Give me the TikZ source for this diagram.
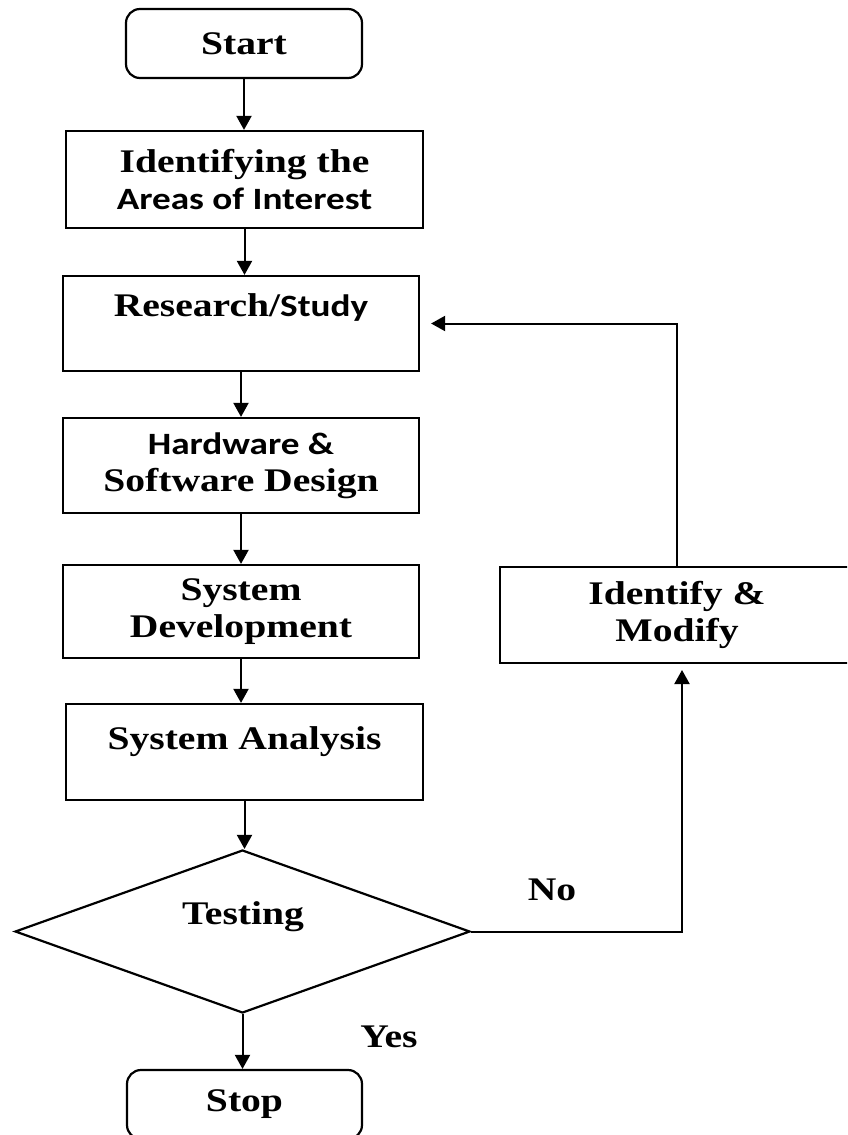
\documentclass[tikz,border=0pt]{standalone}
\usepackage{fontspec}
\setmainfont{Liberation Serif}[FakeStretch=1.2]
\newfontfamily\calfont{Carlito}[FakeStretch=1.2]
\usetikzlibrary{arrows.meta,shapes.geometric}
\tikzset{
  procbox/.style={draw, line width=2.2pt, inner sep=0pt, align=center,
    font=\fontsize{33}{37}\selectfont\bfseries},
  termbox/.style={procbox, rounded corners=14pt},
  decbox/.style={draw, diamond, line width=2.2pt, inner sep=0pt},
  txt/.style={inner sep=0pt, align=center, font=\fontsize{33}{37}\selectfont\bfseries},
  arr/.style={line width=2pt, -{Triangle[width=15pt,length=14pt]}}
}
\newcommand{\sanstxt}[1]{{\calfont\fontsize{31}{37}\selectfont #1}}
\begin{document}
\begin{tikzpicture}[x=1pt,y=-1pt]
\clip (0,0) rectangle (847,1135);
\fill[white] (0,0) rectangle (847,1135);

\node[termbox, minimum width=236pt, minimum height=69pt] (start) at (244,43.5) {Start};
\node[procbox, minimum width=357pt, minimum height=97pt] (ident) at (244.5,179.5) {Identifying the\\\sanstxt{Areas of Interest}};
\node[procbox, minimum width=356pt, minimum height=95pt] (research) at (241,323.5) {};
\node[txt] (researchtext) at (241,307) {Research/\sanstxt{Study}};
\node[procbox, minimum width=356pt, minimum height=95pt] (hw) at (241,465.5) {\sanstxt{Hardware \&}\\Software Design};
\node[procbox, minimum width=356pt, minimum height=93pt] (dev) at (241,611.5) {System\\Development};
\node[procbox, minimum width=357pt, minimum height=96pt] (ana) at (244.5,752) {};
\node[txt] (anatext) at (244.5,742) {System Analysis};
\node[decbox, minimum width=455pt, minimum height=163pt] (test) at (242.5,931.5) {};
\node[txt] (testtext) at (243,917) {Testing};
\node[termbox, minimum width=235pt, minimum height=69pt] (stop) at (244.5,1104.5) {Stop};
\node[procbox, minimum width=354pt, minimum height=96pt] (modify) at (677,615) {Identify \&\\Modify};
\node[txt] (no) at (552,890) {No};
\node[txt] (yes) at (389,1037) {Yes};

\coordinate (notip) at (682,670);

\draw[arr] (start.south) -- (start.south |- ident.north);
\draw[arr] (ident.south) -- (ident.south |- research.north);
\draw[arr] (research.south) -- (research.south |- hw.north);
\draw[arr] (hw.south) -- (hw.south |- dev.north);
\draw[arr] (dev.south) -- (dev.south |- ana.north);
\draw[arr] (ana.south) -- (ana.south |- test.north);
\draw[arr] (test.south) -- (test.south |- stop.north);
\draw[arr] (test.east) -| (notip);
\draw[arr] (modify.north) |- ([xshift=11pt]research.east);
\end{tikzpicture}
\end{document}
